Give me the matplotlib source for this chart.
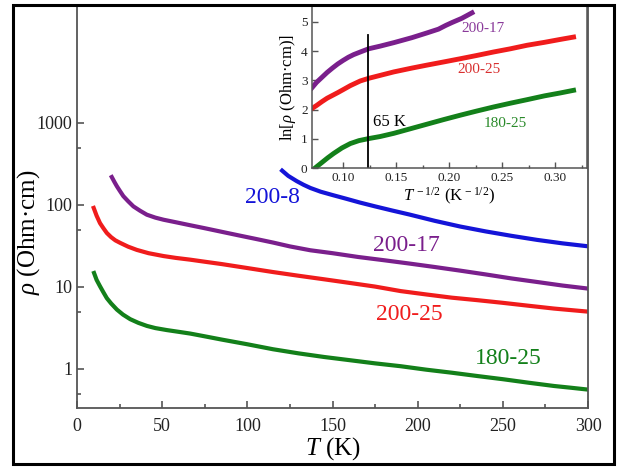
import numpy as np
import matplotlib
matplotlib.use("Agg")
import matplotlib.pyplot as plt
from matplotlib.patches import Rectangle

plt.rcParams['font.family'] = ['Liberation Serif', 'DejaVu Serif']
plt.rcParams['mathtext.fontset'] = 'custom'
plt.rcParams['mathtext.rm'] = 'Liberation Serif'
plt.rcParams['mathtext.it'] = 'Liberation Serif:italic'

# ---- main panel: rho (Ohm cm) vs T (K) ----
T_200_8 = [120.4, 124, 129, 133, 137, 143, 150, 158, 166, 175, 185, 195, 210, 225, 240, 255, 270, 285, 300]
rho_200_8 = [262, 226, 195, 176, 161, 145, 132, 119, 107, 96, 85.5, 76.5, 64, 54.5, 47.5, 42, 37.5, 34, 31.3]

T_200_17 = [20.4, 22, 23.4, 25, 27.2, 30, 33.1, 37, 41, 46, 50.8, 58, 66.5, 75, 85, 95, 105, 115, 125,
            137, 150, 165, 180, 195, 210, 225, 240, 255, 270, 285, 300]
rho_200_17 = [219, 190, 169, 150, 128, 111, 96, 85, 76, 70, 66, 61.5, 56.5, 52, 47, 42.5, 38.5, 34.8, 31.2,
              28, 25.8, 23.2, 21.2, 19.3, 17.5, 15.8, 14.2, 12.7, 11.5, 10.4, 9.55]

T_200_25 = [9.8, 11.5, 13.5, 15.5, 17.5, 20, 22.5, 25.3, 30, 35.1, 42, 50.8, 58, 66.5, 75, 85, 100, 115,
            130, 145, 160, 175, 190, 205, 220, 235, 250, 265, 280, 300]
rho_200_25 = [92, 74, 60, 52, 45.5, 40.5, 37, 34.5, 31, 28.3, 25.8, 23.8, 22.6, 21.5, 20.3, 19, 17, 15.2,
              13.7, 12.4, 11.2, 10.1, 8.9, 8.1, 7.4, 6.9, 6.4, 5.9, 5.45, 5.0]

T_180_25 = [10, 11.5, 13.5, 15.5, 17.5, 20, 23.4, 27, 31.2, 36, 41, 46, 52.7, 60, 66.5, 75, 85, 100, 115,
            130, 145, 160, 175, 190, 205, 220, 235, 250, 265, 280, 290, 300]
rho_180_25 = [14.8, 12.2, 10.2, 8.6, 7.3, 6.3, 5.3, 4.6, 4.05, 3.65, 3.35, 3.15, 2.98, 2.83, 2.7, 2.5, 2.28, 2.0, 1.74,
              1.55, 1.40, 1.28, 1.17, 1.08, 0.98, 0.9, 0.82, 0.75, 0.68, 0.62, 0.59, 0.56]

# ---- inset: ln(rho) vs T^-1/2 ----
x_in_200_17 = [0.0708, 0.075, 0.08, 0.085, 0.09, 0.095, 0.10, 0.105, 0.11, 0.117, 0.1242, 0.135, 0.148,
               0.165, 0.179, 0.19, 0.197, 0.203, 0.212, 0.2217]
ln_200_17 = [2.75, 2.93, 3.1, 3.27, 3.42, 3.56, 3.68, 3.79, 3.88, 3.98, 4.08, 4.17, 4.29,
             4.46, 4.62, 4.75, 4.88, 4.98, 5.12, 5.31]

x_in_200_25 = [0.0708, 0.075, 0.08, 0.085, 0.0908, 0.095, 0.10, 0.1069, 0.1163, 0.1242, 0.135, 0.148, 0.165,
               0.179, 0.195, 0.2107, 0.226, 0.242, 0.258, 0.2736, 0.29, 0.305, 0.3175]
ln_200_25 = [2.04, 2.14, 2.27, 2.39, 2.5, 2.58, 2.68, 2.82, 2.98, 3.07, 3.17, 3.29, 3.42,
             3.52, 3.63, 3.74, 3.85, 3.97, 4.08, 4.20, 4.30, 4.40, 4.48]

x_in_180_25 = [0.0708, 0.0735, 0.08, 0.0855, 0.0911, 0.099, 0.1069, 0.115, 0.1242, 0.135, 0.148, 0.165,
               0.179, 0.195, 0.2107, 0.226, 0.242, 0.258, 0.2736, 0.29, 0.305, 0.3175]
ln_180_25 = [-0.08, 0.0, 0.19, 0.35, 0.50, 0.69, 0.84, 0.94, 1.01, 1.08, 1.19, 1.36,
             1.50, 1.66, 1.81, 1.95, 2.09, 2.22, 2.34, 2.47, 2.57, 2.66]

x_65K = 65 ** -0.5

c_blue = '#1414d8'
c_purple = '#7a1f8c'
c_red = '#f01c1c'
c_green = '#13801a'
spine_c = '#555555'

fig = plt.figure(figsize=(6.21, 4.67), dpi=100)
fig.patches.append(Rectangle((0.021, 0.006), 0.968, 0.983, transform=fig.transFigure,
                             fill=False, edgecolor='black', linewidth=2.2, zorder=10))

ax = fig.add_axes([0.124, 0.1263, 0.823, 0.861])
ax.plot(T_200_8, rho_200_8, color=c_blue, lw=3)
ax.plot(T_200_17, rho_200_17, color=c_purple, lw=3)
ax.plot(T_200_25, rho_200_25, color=c_red, lw=3)
ax.plot(T_180_25, rho_180_25, color=c_green, lw=3)
ax.set_yscale('log')
ax.set_xlim(0, 300)
ax.set_ylim(0.334, 26700)
ax.set_xticks([0, 50, 100, 150, 200, 250, 300])
ax.set_xticks(np.arange(25, 300, 50), minor=True)
ax.set_yticks([1, 10, 100, 1000])
ax.set_yticklabels(['1', '10', '100', '1000'])
ax.set_yticks([0.5, 5, 50, 500], minor=True)
ax.yaxis.set_minor_formatter(matplotlib.ticker.NullFormatter())
ax.tick_params(which='both', direction='in', color=spine_c, labelsize=13, labelcolor='#222222')
ax.tick_params(which='major', length=5, width=1.2)
ax.tick_params(which='minor', length=3, width=1.2)
ax.tick_params(axis='x', pad=7)
for s in ax.spines.values():
    s.set_color(spine_c)
    s.set_linewidth(1.3)
ax.set_xlabel(r'$T$ (K)', fontsize=18, labelpad=0)
ax.set_ylabel(r'$\rho$ (Ohm·cm)', fontsize=18)
ax.yaxis.set_label_coords(-0.068, 0.438)

ax.text(114.7, 122, '200-8', color=c_blue, fontsize=17, ha='center', va='center')
ax.text(193.5, 31.6, '200-17', color=c_purple, fontsize=17, ha='center', va='center')
ax.text(195.3, 4.56, '200-25', color=c_red, fontsize=17, ha='center', va='center')
ax.text(253, 1.36, '180-25', color=c_green, fontsize=17, ha='center', va='center')

# inset
ins = fig.add_axes([0.502, 0.640, 0.4438, 0.347])
ins.plot(x_in_200_17, ln_200_17, color=c_purple, lw=3.5)
ins.plot(x_in_200_25, ln_200_25, color=c_red, lw=3.5)
ins.plot(x_in_180_25, ln_180_25, color=c_green, lw=3.5)
ins.plot([x_65K, x_65K], [0, 4.54], color='black', lw=1.3)
ins.set_xlim(0.0705, 0.3305)
ins.set_ylim(0, 5.54)
ins.set_xticks([0.10, 0.15, 0.20, 0.25, 0.30])
ins.set_xticklabels(['0.10', '0.15', '0.20', '0.25', '0.30'])
ins.set_xticks([0.075, 0.125, 0.175, 0.225, 0.275, 0.325], minor=True)
ins.set_yticks([0, 1, 2, 3, 4, 5])
ins.tick_params(which='both', direction='in', color=spine_c, labelsize=9.5, labelcolor='#222222', pad=3)
ins.tick_params(which='major', length=4, width=1)
ins.tick_params(which='minor', length=2.5, width=1)
for s in ins.spines.values():
    s.set_color(spine_c)
    s.set_linewidth(1.1)
ins.set_xlabel(r'$T^{\,-1/2}$ (K$^{\,-1/2}$)', fontsize=12, labelpad=1)
ins.set_ylabel(r'ln[$\rho$ (Ohm·cm)]', fontsize=12, labelpad=2)

ins.text(0.2324, 4.78, '200-17', color='#8a3a9a', fontsize=11, ha='center', va='center')
ins.text(0.2286, 3.38, '200-25', color='#d83030', fontsize=11, ha='center', va='center')
ins.text(0.253, 1.54, '180-25', color='#2a8a2a', fontsize=11, ha='center', va='center')
ins.text(0.128, 1.57, '65 K', color='black', fontsize=12, ha='left', va='center')

fig.savefig('out.png', dpi=100)
